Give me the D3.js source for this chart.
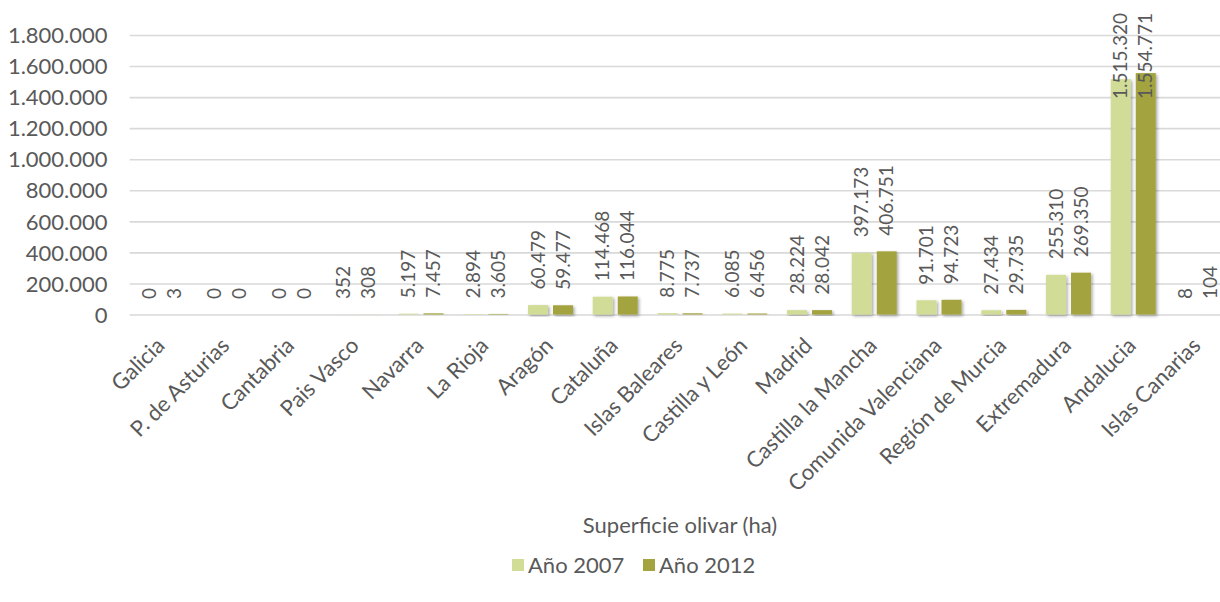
<!DOCTYPE html>
<html>
<head>
<meta charset="utf-8">
<script src="https://cdn.jsdelivr.net/npm/d3@7/dist/d3.min.js"></script>
<style>
  html, body { margin: 0; padding: 0; background: #fff; }
  svg { display: block; }
  text { font-family: Lato, "Open Sans", sans-serif; fill: #595959; }
</style>
</head>
<body>
<svg id="chart" width="1220" height="602"></svg>
<script>
const categories = ["Galicia", "P. de Asturias", "Cantabria", "Pais Vasco", "Navarra", "La Rioja", "Aragón", "Cataluña", "Islas Baleares", "Castilla y León", "Madrid", "Castilla la Mancha", "Comunida Valenciana", "Región de Murcia", "Extremadura", "Andalucia", "Islas Canarias"];
const seriesNames = ["Año 2007", "Año 2012"];
const values2007 = [0, 0, 0, 352, 5197, 2894, 60479, 114468, 8775, 6085, 28224, 397173, 91701, 27434, 255310, 1515320, 8];
const values2012 = [3, 0, 0, 308, 7457, 3605, 59477, 116044, 7737, 6456, 28042, 406751, 94723, 29735, 269350, 1554771, 104];
const yTicks = [0, 200000, 400000, 600000, 800000, 1000000, 1200000, 1400000, 1600000, 1800000];
const axisTitle = "Superficie olivar (ha)";
const colors = ["#D1DC96", "#A3A43F"];

const svg = d3.select("#chart");
const fmt = v => d3.format(",")(v).replace(/,/g, ".");

const plotLeft = 129.6, plotRight = 1230.4, plotTop = 35, plotBottom = 314.5;

const x = d3.scaleBand().domain(categories).range([plotLeft, plotRight]).paddingInner(0).paddingOuter(0);
const x1 = d3.scaleBand().domain(seriesNames).range([-22.5, 22.5]).paddingInner(0.2).paddingOuter(0);
const y = d3.scaleLinear().domain([0, 1800000]).range([plotBottom, plotTop]);

const defs = svg.append("defs");
const f = defs.append("filter").attr("id", "shadow").attr("x", "-30%").attr("y", "-10%").attr("width", "160%").attr("height", "130%");
f.append("feDropShadow").attr("dx", 1.5).attr("dy", 1.5).attr("stdDeviation", 1.6).attr("flood-color", "#000").attr("flood-opacity", 0.35);

// gridlines + y tick labels
const yAxis = d3.axisLeft(y).tickValues(yTicks).tickSize(-(plotRight - plotLeft)).tickFormat(fmt).tickPadding(22);
const gy = svg.append("g").attr("transform", `translate(${plotLeft},0)`).call(yAxis);
gy.select(".domain").remove();
gy.selectAll(".tick line").attr("stroke", "#D9D9D9").attr("stroke-width", 1.6);
gy.selectAll(".tick text").attr("font-size", 22).attr("fill", "#595959").attr("dy", "0.35em");

// baseline
svg.append("line").attr("x1", plotLeft).attr("x2", plotRight).attr("y1", y(0)).attr("y2", y(0))
  .attr("stroke", "#D9D9D9").attr("stroke-width", 2).attr("filter", "url(#shadow)");

const data = categories.map((c, i) => ({ cat: c, vals: [
  { s: seriesNames[0], v: values2007[i], c: colors[0] },
  { s: seriesNames[1], v: values2012[i], c: colors[1] }
]}));

const groups = svg.append("g").selectAll("g").data(data).join("g")
  .attr("transform", d => `translate(${x(d.cat) + x.bandwidth() / 2},0)`);

groups.selectAll("rect").data(d => d.vals).join("rect")
  .attr("x", d => x1(d.s))
  .attr("width", x1.bandwidth())
  .attr("y", d => y(d.v))
  .attr("height", d => Math.max(0, y(0) - y(d.v)))
  .attr("fill", d => d.c)
  .attr("filter", "url(#shadow)");

// data labels rotated
groups.selectAll("text.lbl").data(d => d.vals).join("text")
  .attr("class", "lbl")
  .attr("font-size", 19)
  .attr("text-anchor", "start")
  .text(d => fmt(d.v))
  .each(function(d) {
    const len = this.getComputedTextLength();
    const cx = x1(d.s) + x1.bandwidth() / 2;
    const ay = Math.max(y(d.v) - 15.5, 13 + len);
    d3.select(this).attr("transform", `translate(${cx},${ay}) rotate(-90)`).attr("dy", "0.35em");
  });

// category labels
svg.append("g").selectAll("text").data(categories).join("text")
  .attr("font-size", 22)
  .attr("text-anchor", "end")
  .attr("transform", d => `translate(${x(d) + x.bandwidth() / 2 + 4},${347}) rotate(-45)`)
  .text(d => d);

// axis title
svg.append("text").attr("x", (plotLeft + plotRight) / 2).attr("y", 533).attr("text-anchor", "middle")
  .attr("font-size", 22).text(axisTitle);

// legend
const legendX = [512, 643];
const lg = svg.append("g").selectAll("g").data(seriesNames).join("g")
  .attr("transform", (d, i) => `translate(${legendX[i]},559)`);
lg.append("rect").attr("width", 12).attr("height", 12).attr("fill", (d, i) => colors[i]);
lg.append("text").attr("x", 16).attr("y", 14).attr("font-size", 22).text(d => d);
</script>
</body>
</html>
